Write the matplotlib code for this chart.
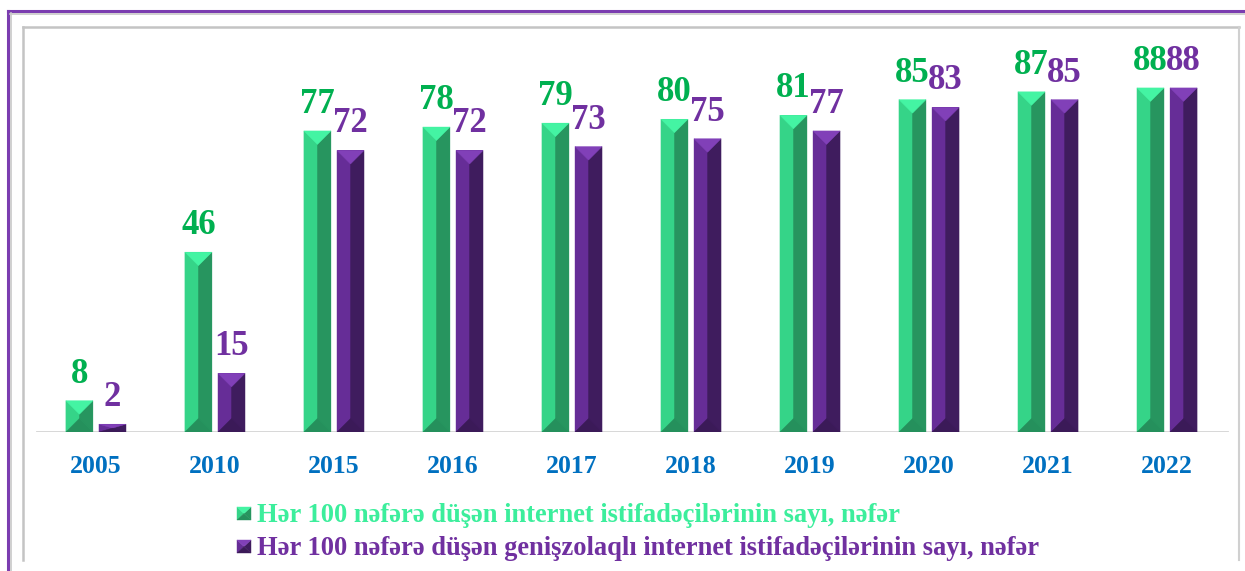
import matplotlib.pyplot as plt
from matplotlib.patches import Polygon
from matplotlib.lines import Line2D

years = ['2005', '2010', '2015', '2016', '2017', '2018', '2019', '2020', '2021', '2022']
internet = [8, 46, 77, 78, 79, 80, 81, 85, 87, 88]
broadband = [2, 15, 72, 72, 73, 75, 77, 83, 85, 88]

label_internet = 'Hər 100 nəfərə düşən internet istifadəçilərinin sayı, nəfər'
label_broadband = 'Hər 100 nəfərə düşən genişzolaqlı internet istifadəçilərinin sayı, nəfər'

# face colours: top, left, right, bottom
green_faces = ['#44F4A3', '#35D488', '#27955F', '#25905C']
purple_faces = ['#8140B8', '#662D97', '#3F1C5E', '#3B1A58']

W, H = 1245, 571
SERIF = 'Liberation Serif'

fig = plt.figure(figsize=(W / 100, H / 100), dpi=100)
ax = fig.add_axes([23 / W, (H - 432) / H, 1209 / W, 391 / H])
ax.set_xlim(-0.613, 9.546)
ax.set_ylim(0, 100)
ax.axis('off')


def bevel(target, x0, x1, y0, y1, d, faces, **kw):
    xc = (x0 + x1) / 2
    d = min(d, (y1 - y0) / 2)
    top = [(x0, y1), (x1, y1), (xc, y1 - d)]
    bottom = [(x0, y0), (x1, y0), (xc, y0 + d)]
    left = [(x0, y0), (x0, y1), (xc, y1 - d), (xc, y0 + d)]
    right = [(x1, y0), (x1, y1), (xc, y1 - d), (xc, y0 + d)]
    for pts, c in zip([left, right, top, bottom], [faces[1], faces[2], faces[0], faces[3]]):
        target.add_artist(Polygon(pts, closed=True, facecolor=c, edgecolor=c, lw=0.3, **kw))


width = 0.227
off = 0.139
x = list(range(len(years)))
bars_g = ax.bar([i - off for i in x], internet, width, color=green_faces[1])
bars_p = ax.bar([i + off for i in x], broadband, width, color=purple_faces[1])

# vertical inset that equals half the bar width in pixels
p0 = ax.transData.transform((0, 0))
p1 = ax.transData.transform((width, 0))
half_px = (p1[0] - p0[0]) / 2
d = ax.transData.inverted().transform((p0[0], p0[1] + half_px))[1]

for bars, faces in [(bars_g, green_faces), (bars_p, purple_faces)]:
    for b in bars:
        bevel(ax, b.get_x(), b.get_x() + b.get_width(), 0, b.get_height(), d, faces)

ax.axhline(0, xmin=14 / 1209, xmax=1204 / 1209, color='#D4D4D4', lw=2, zorder=0)

for bars, vals, col in [(bars_g, internet, '#00B050'), (bars_p, broadband, '#7030A0')]:
    for b, v in zip(bars, vals):
        ax.annotate(str(v), (b.get_x() + b.get_width() / 2, v), xytext=(0, 13),
                    textcoords='offset points', ha='center', va='baseline',
                    fontsize=25, fontweight='bold', family=SERIF, color=col)

for i, yr in enumerate(years):
    ax.text(i, -41 / 391, yr, transform=ax.get_xaxis_transform(), ha='center',
            va='baseline', fontsize=18.5, fontweight='bold', family=SERIF, color='#0070C0')

# frames
def fline(xs, ys, color, lw):
    fig.add_artist(Line2D([v / W for v in xs], [1 - v / H for v in ys],
                          color=color, lw=lw, transform=fig.transFigure))

fline([8, W], [11, 11], '#7B3DB0', 2.2)
fline([8, 8], [11, H], '#7B3DB0', 2.2)
fline([10, W], [13.5, 13.5], '#C8C8C8', 1.2)
fline([10.5, 10.5], [13, H], '#C8C8C8', 1.2)
fline([23, 1239], [27, 27], '#C4C4C4', 1.8)
fline([23, 23], [27, 560], '#C4C4C4', 1.8)
fline([1239, 1239], [27, 560], '#D0D0D0', 1.5)

# legend
legend_rows = [(label_internet, '#3CEE9C', green_faces, 522),
               (label_broadband, '#7030A0', purple_faces, 555)]
for text, tcol, faces, base in legend_rows:
    mx0, mx1 = 237 / W, 251 / W
    my0, my1 = 1 - (base - 2) / H, 1 - (base - 15) / H
    dm = 7 / H
    bevel(fig, mx0, mx1, my0, my1, dm, faces, transform=fig.transFigure)
    fig.text(257 / W, 1 - base / H, text, ha='left', va='baseline', fontsize=19.1,
             fontweight='bold', family=SERIF, color=tcol)

fig.savefig('out.png', dpi=100, facecolor='white')
